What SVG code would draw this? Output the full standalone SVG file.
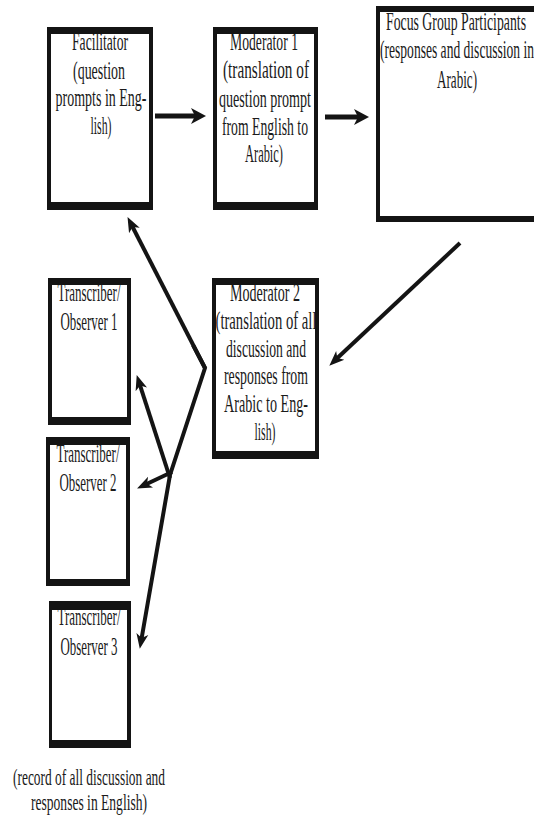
<svg xmlns="http://www.w3.org/2000/svg" width="534" height="818" viewBox="0 0 534 818">
<style>
.frame{fill:#141414;fill-rule:evenodd}
.t{font-family:"Liberation Serif","Times New Roman",serif;font-size:26px;fill:#1a1a1a;text-anchor:middle}
.n{font-size:23px}
.c{fill:none;stroke:#141414;stroke-width:4;stroke-linecap:butt;stroke-linejoin:miter}
.h{stroke-width:5}
</style>
<defs>
<marker id="ah" markerUnits="userSpaceOnUse" markerWidth="16" markerHeight="18" refX="5" refY="9" orient="auto">
<path d="M0,1 L15,9 L0,17 L4,9 z" fill="#141414"/>
</marker>
<marker id="ad" markerUnits="userSpaceOnUse" markerWidth="16" markerHeight="14" refX="5" refY="7" orient="auto">
<path d="M0,1 L15,7 L0,13 L4,7 z" fill="#141414"/>
</marker>
</defs>
<rect width="534" height="818" fill="#ffffff"/>

<g id="facilitator">
<text class="t" x="100" y="50" textLength="56" lengthAdjust="spacingAndGlyphs">Facilitator</text>
<text class="t" x="99" y="79" textLength="52" lengthAdjust="spacingAndGlyphs">(question</text>
<text class="t" x="101" y="106" textLength="91" lengthAdjust="spacingAndGlyphs">prompts in Eng-</text>
<text class="t" x="101" y="134" textLength="21" lengthAdjust="spacingAndGlyphs">lish)</text>
<path class="frame" d="M47,27 H153 V210 H47 Z M51,34 V202 H149 V34 Z"/>
</g>

<g id="moderator1">
<text class="t" x="264" y="50" textLength="68" lengthAdjust="spacingAndGlyphs">Moderator 1</text>
<text class="t" x="266" y="78" textLength="86" lengthAdjust="spacingAndGlyphs">(translation of</text>
<text class="t" x="265" y="107" textLength="92" lengthAdjust="spacingAndGlyphs">question prompt</text>
<text class="t" x="265" y="135" textLength="86" lengthAdjust="spacingAndGlyphs">from English to</text>
<text class="t" x="264" y="162" textLength="38" lengthAdjust="spacingAndGlyphs">Arabic)</text>
<path class="frame" d="M213,27 H318 V210 H213 Z M217,34 V202 H314 V34 Z"/>
</g>

<g id="focus-group">
<text class="t" x="456" y="30" textLength="140" lengthAdjust="spacingAndGlyphs">Focus Group Participants</text>
<text class="t" x="457" y="58" textLength="154" lengthAdjust="spacingAndGlyphs">(responses and discussion in</text>
<text class="t" x="457" y="88" textLength="40" lengthAdjust="spacingAndGlyphs">Arabic)</text>
<path class="frame" d="M376,6 H545 V222 H376 Z M380,12 V216 H545 V12 Z"/>
</g>

<g id="transcriber1">
<text class="t" x="89" y="301" textLength="63" lengthAdjust="spacingAndGlyphs">Transcriber/</text>
<text class="t" x="89" y="330" textLength="57" lengthAdjust="spacingAndGlyphs">Observer 1</text>
<path class="frame" d="M48,278 H131 V425 H48 Z M52,285 V417 H127 V285 Z"/>
</g>

<g id="moderator2">
<text class="t" x="265" y="301" textLength="70" lengthAdjust="spacingAndGlyphs">Moderator 2</text>
<text class="t" x="266" y="329" textLength="101" lengthAdjust="spacingAndGlyphs">(translation of all</text>
<text class="t" x="266" y="357" textLength="80" lengthAdjust="spacingAndGlyphs">discussion and</text>
<text class="t" x="266" y="384" textLength="84" lengthAdjust="spacingAndGlyphs">responses from</text>
<text class="t" x="266" y="412" textLength="84" lengthAdjust="spacingAndGlyphs">Arabic to Eng-</text>
<text class="t" x="265" y="440" textLength="21" lengthAdjust="spacingAndGlyphs">lish)</text>
<path class="frame" d="M212,278 H319 V459 H212 Z M216,285 V451 H315 V285 Z"/>
</g>

<g id="transcriber2">
<text class="t" x="88" y="462" textLength="63" lengthAdjust="spacingAndGlyphs">Transcriber/</text>
<text class="t" x="88" y="491" textLength="57" lengthAdjust="spacingAndGlyphs">Observer 2</text>
<path class="frame" d="M46,437 H130 V586 H46 Z M50,445 V579 H126 V445 Z"/>
</g>

<g id="transcriber3">
<text class="t" x="89" y="625" textLength="63" lengthAdjust="spacingAndGlyphs">Transcriber/</text>
<text class="t" x="89" y="655" textLength="57" lengthAdjust="spacingAndGlyphs">Observer 3</text>
<path class="frame" d="M49,601 H131 V748 H49 Z M52,610 V740 H127 V610 Z"/>
</g>

<g id="record-note">
<text class="t n" x="89" y="785" textLength="152" lengthAdjust="spacingAndGlyphs">(record of all discussion and</text>
<text class="t n" x="89" y="810" textLength="116" lengthAdjust="spacingAndGlyphs">responses in English)</text>
</g>

<g id="connectors">
<path class="c h" d="M155,116 H196" marker-end="url(#ah)"/>
<path class="c h" d="M325,117 H359" marker-end="url(#ah)"/>
<path class="c" d="M460,243 L336.6,358.8" marker-end="url(#ad)"/>
<path class="c" d="M205,368 L132.1,226" marker-end="url(#ad)"/>
<path class="c" d="M193,345 L205,368 L170,475 L141.5,639" marker-end="url(#ad)"/>
<path class="c" d="M170,478 L139.8,384.6" marker-end="url(#ad)"/>
<path class="c" d="M172,472 L146.1,484.2" marker-end="url(#ad)"/>
</g>
</svg>
